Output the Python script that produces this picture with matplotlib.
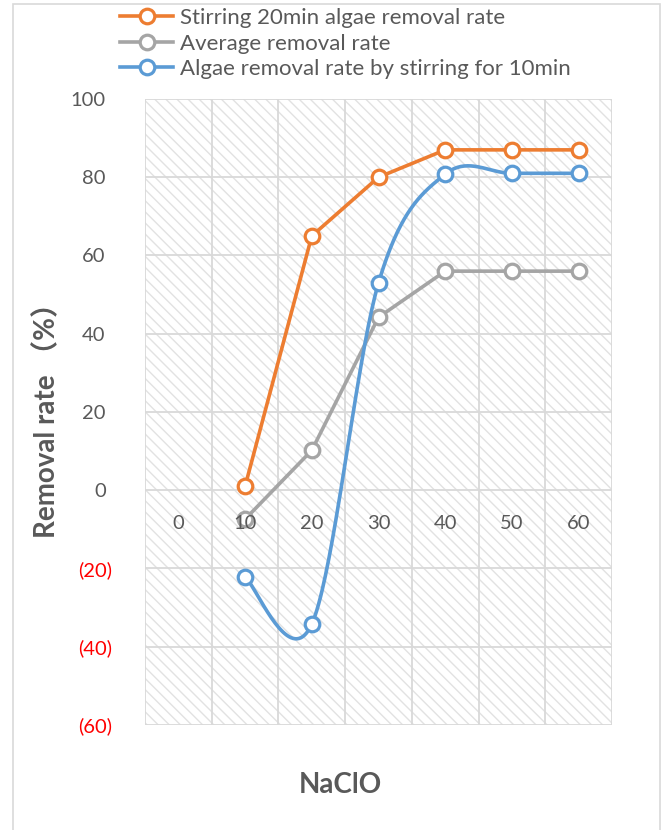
import numpy as np
import matplotlib.pyplot as plt
from matplotlib.patches import Rectangle
from matplotlib.lines import Line2D
from matplotlib.transforms import ScaledTranslation

plt.rcParams['font.family'] = ['Lato', 'Noto Sans CJK SC', 'DejaVu Sans']

# 数据
nacl = ['0', '10', '20', '30', '40', '50', '60']
stir20 = [1, 65, 80, 87, 87, 87]
average = [-7.4, 10.2, 44.2, 56, 56, 56]
stir10 = [-22.2, -34.2, 53, 80.8, 81, 81]
yticks = [-60, -40, -20, 0, 20, 40, 60, 80, 100]
names = ['Stirring 20min algae removal rate',
         'Average removal rate',
         'Algae removal rate by stirring for 10min']

c_orange = '#ED7D31'
c_gray = '#A5A5A5'
c_blue = '#5B9BD5'
c_text = '#595959'
c_grid = '#D9D9D9'
fs = 14.5


def smooth(xs, ys, n=40):
    # 类似 Excel 的平滑曲线 (贝塞尔)
    P = np.column_stack([xs, ys]).astype(float)
    ext = np.vstack([P[0], P, P[-1]])
    out = []
    t = np.linspace(0, 1, n)[:, None]
    for i in range(len(P) - 1):
        p0, p1, p2, p3 = ext[i], ext[i + 1], ext[i + 2], ext[i + 3]
        c1 = p1 + (p2 - p0) / 6
        c2 = p2 - (p3 - p1) / 6
        seg = (1 - t) ** 3 * p1 + 3 * (1 - t) ** 2 * t * c1 + 3 * (1 - t) * t ** 2 * c2 + t ** 3 * p2
        out.append(seg if i == 0 else seg[1:])
    return np.vstack(out)


fig = plt.figure(figsize=(6.61, 8.30), dpi=100)
ax = fig.add_axes([145 / 661, 1 - 725 / 830, 467 / 661, 626 / 830])

xs = np.arange(1, len(nacl))
lw = 2.6
mk = dict(marker='o', markersize=10.5, markerfacecolor='white', markeredgewidth=2.3)

# 背景斜线
plt.rcParams['hatch.linewidth'] = 1.0
ax.add_patch(Rectangle((0, 0), 1, 1, transform=ax.transAxes, facecolor='white',
                       edgecolor='#E2E2E2', hatch='\\\\\\', linewidth=0, zorder=0))

ax.plot(xs, stir20, color=c_orange, lw=lw, zorder=3, **mk)
ax.plot(xs, average, color=c_gray, lw=lw, zorder=3, **mk)
sm = smooth(xs, stir10)
ax.plot(sm[:, 0], sm[:, 1], color=c_blue, lw=lw, zorder=3)
ax.plot(xs, stir10, color=c_blue, lw=0, zorder=4, **mk)

ax.set_xlim(-0.5, len(nacl) - 0.5)
ax.set_ylim(-60, 100)
ax.set_xticks(np.arange(-0.5, len(nacl), 1))
ax.set_xticklabels([])
ax.set_yticks(yticks)
ax.set_yticklabels(['(%d)' % -v if v < 0 else '%d' % v for v in yticks])
ax.tick_params(length=0, labelsize=fs, colors=c_text)
ax.tick_params(axis='y', pad=24)
for v, lab in zip(yticks, ax.get_yticklabels()):
    if v < 0:
        lab.set_color('#FF0000')
    else:
        lab.set_transform(lab.get_transform() + ScaledTranslation(-6 / 100, 0, fig.dpi_scale_trans))
ax.grid(True, color=c_grid, lw=1.3)
ax.set_axisbelow(True)
for s in ax.spines.values():
    s.set_visible(False)

# x 轴标签放在 0 线下方
off = ax.transData + ScaledTranslation(0, -33 / 100, fig.dpi_scale_trans)
for i, lab in enumerate(nacl):
    ax.text(i, 0, lab, transform=off, ha='center', va='center', fontsize=fs,
            color=c_text, zorder=6)

fig.text(47 / 661, 1 - 414 / 830, 'Removal rate （%）', rotation=90, ha='center', va='center',
         fontsize=20, fontweight='bold', color=c_text)
fig.text(340 / 661, 1 - 785 / 830, 'NaClO', ha='center', va='center',
         fontsize=20, fontweight='bold', color=c_text)

handles = [Line2D([], [], color=c, lw=lw, **mk) for c in (c_orange, c_gray, c_blue)]
fig.legend(handles, names, loc='upper left', bbox_to_anchor=(120 / 661, 1 - 8 / 830),
           frameon=False, fontsize=16, handlelength=2.4, handletextpad=0.3,
           labelspacing=0.25, borderpad=0, borderaxespad=0, labelcolor=c_text)

# 外框
fig.patches.append(Rectangle((12.5 / 661, -0.05), 647 / 661, 1.05 - 4.5 / 830,
                             transform=fig.transFigure, fill=False, edgecolor=c_grid, lw=1.2))

fig.savefig('out.png', dpi=100)
